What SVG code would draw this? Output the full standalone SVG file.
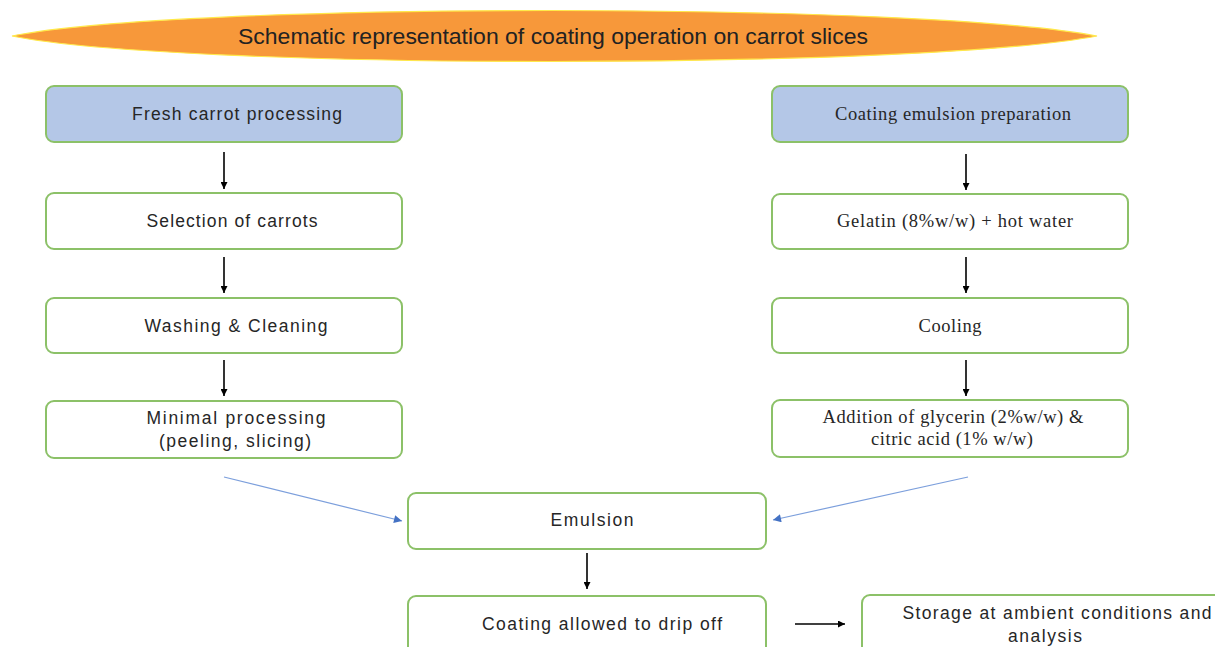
<svg xmlns="http://www.w3.org/2000/svg" width="1215" height="647" viewBox="0 0 1215 647">
<defs>
<style>
.box{fill:#ffffff;stroke:#8cc168;stroke-width:2}
.hdr{fill:#b4c7e7;stroke:#8cc168;stroke-width:2}
.sans{font-family:"Liberation Sans","Open Sans",sans-serif;font-size:17.5px;fill:#262626;text-anchor:middle}
.serif{font-family:"Liberation Serif","DejaVu Serif",serif;font-size:18.5px;fill:#262626;text-anchor:middle}
.blk{stroke:#000;stroke-width:1.6;fill:none}
.blu{stroke:#7c9fdc;stroke-width:1.2;fill:none}
</style>
<marker id="ah" viewBox="0 0 10 10" refX="10" refY="5" markerWidth="7" markerHeight="7" markerUnits="userSpaceOnUse" orient="auto"><path d="M0,0 L10,5 L0,10 Z" fill="#000"/></marker>
<marker id="ahb" viewBox="0 0 10 10" refX="10" refY="5" markerWidth="9" markerHeight="8" markerUnits="userSpaceOnUse" orient="auto"><path d="M0,0 L10,5 L0,10 Z" fill="#4472c4"/></marker>
</defs>
<rect width="1215" height="647" fill="#ffffff"/>
<g id="title">
<path d="M12,36 C180,2 920,2 1097,36 C920,70 180,70 12,36 Z" fill="#f7983a" stroke="#ffe94a" stroke-width="1.2"/>
<text x="553" y="44" font-family="'Liberation Sans','Open Sans',sans-serif" font-size="22.5" fill="#222" text-anchor="middle" textLength="630" lengthAdjust="spacingAndGlyphs">Schematic representation of coating operation on carrot slices</text>
</g>
<g id="n-fresh"><rect class="hdr" x="46" y="86" width="356" height="56" rx="8"/><text class="sans" x="237" y="120" textLength="210" lengthAdjust="spacing">Fresh carrot processing</text></g>
<g id="n-select"><rect class="box" x="46" y="193" width="356" height="56" rx="8"/><text class="sans" x="232" y="227" textLength="171" lengthAdjust="spacing">Selection of carrots</text></g>
<g id="n-wash"><rect class="box" x="46" y="298" width="356" height="55" rx="8"/><text class="sans" x="236" y="332" textLength="183" lengthAdjust="spacing">Washing &amp; Cleaning</text></g>
<g id="n-minimal"><rect class="box" x="46" y="401" width="356" height="57" rx="8"/><text class="sans" x="236" y="424" textLength="179" lengthAdjust="spacing">Minimal processing</text><text class="sans" x="235" y="447" textLength="152" lengthAdjust="spacing">(peeling, slicing)</text></g>
<g id="n-coatprep"><rect class="hdr" x="772" y="86" width="356" height="56" rx="8"/><text class="serif" x="953" y="120" textLength="236" lengthAdjust="spacing">Coating emulsion preparation</text></g>
<g id="n-gelatin"><rect class="box" x="772" y="194" width="356" height="55" rx="8"/><text class="serif" x="955" y="227" textLength="236" lengthAdjust="spacing">Gelatin (8%w/w) + hot water</text></g>
<g id="n-cooling"><rect class="box" x="772" y="298" width="356" height="55" rx="8"/><text class="serif" x="950" y="332" textLength="63" lengthAdjust="spacing">Cooling</text></g>
<g id="n-addition"><rect class="box" x="772" y="400" width="356" height="57" rx="8"/><text class="serif" x="953" y="423" textLength="261" lengthAdjust="spacing">Addition of glycerin (2%w/w) &amp;</text><text class="serif" x="952" y="445" textLength="162" lengthAdjust="spacing">citric acid (1% w/w)</text></g>
<g id="n-emulsion"><rect class="box" x="408" y="493" width="358" height="56" rx="8"/><text class="sans" x="592" y="526" textLength="83" lengthAdjust="spacing">Emulsion</text></g>
<g id="n-drip"><rect class="box" x="408" y="596" width="358" height="70" rx="8"/><text class="sans" x="602" y="630" textLength="240" lengthAdjust="spacing">Coating allowed to drip off</text></g>
<g id="n-storage"><rect class="box" x="862" y="595" width="370" height="70" rx="8"/><text class="sans" x="1057" y="619" textLength="309" lengthAdjust="spacing">Storage at ambient conditions and</text><text class="sans" x="1045" y="642" textLength="74" lengthAdjust="spacing">analysis</text></g>
<g id="connectors">
<line class="blk" x1="224" y1="152" x2="224" y2="189" marker-end="url(#ah)"/>
<line class="blk" x1="224" y1="257" x2="224" y2="293" marker-end="url(#ah)"/>
<line class="blk" x1="224" y1="360" x2="224" y2="396" marker-end="url(#ah)"/>
<line class="blk" x1="966" y1="154" x2="966" y2="190" marker-end="url(#ah)"/>
<line class="blk" x1="966" y1="257" x2="966" y2="293" marker-end="url(#ah)"/>
<line class="blk" x1="966" y1="360" x2="966" y2="396" marker-end="url(#ah)"/>
<line class="blk" x1="587" y1="553" x2="587" y2="589" marker-end="url(#ah)"/>
<line class="blk" x1="795" y1="624" x2="845" y2="624" marker-end="url(#ah)"/>
<line class="blu" x1="224" y1="477" x2="402" y2="521" marker-end="url(#ahb)"/>
<line class="blu" x1="968" y1="477" x2="773" y2="520" marker-end="url(#ahb)"/>
</g>
</svg>
